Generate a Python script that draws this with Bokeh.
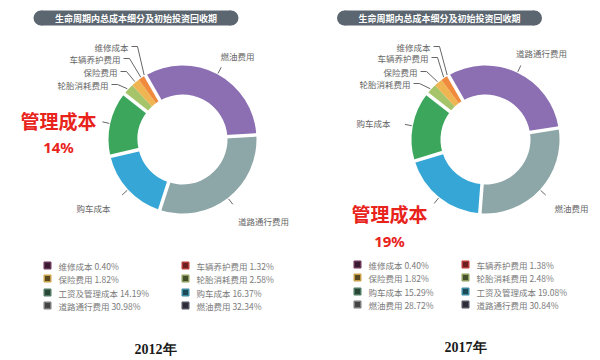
import math
from bokeh.plotting import figure
from bokeh.models import Range1d
from bokeh.core.properties import value
from bokeh.embed import file_html
from bokeh.resources import INLINE

# ---------------- data ----------------
title_text = "生命周期内总成本细分及初始投资回收期"
cats_2012 = ["维修成本", "车辆养护费用", "保险费用", "轮胎消耗费用",
             "工资及管理成本", "购车成本", "道路通行费用", "燃油费用"]
vals_2012 = [0.40, 1.32, 1.82, 2.58, 14.19, 16.37, 30.98, 32.34]
cats_2017 = ["维修成本", "车辆养护费用", "保险费用", "轮胎消耗费用",
             "购车成本", "工资及管理成本", "燃油费用", "道路通行费用"]
vals_2017 = [0.40, 1.38, 1.82, 2.48, 15.29, 19.08, 28.72, 30.84]
years = ["2012年", "2017年"]
highlight_text = ["管理成本", "管理成本"]
highlight_pct = ["14%", "19%"]
highlight_idx = [4, 5]

# ---------------- styles / layout ----------------
slice_colors = ["#e0342a", "#f08a3c", "#efb552", "#a6c46a",
                "#3ca75c", "#35a6d6", "#8da6a7", "#8b6fb2"]
legend_line = ["#6a3458", "#b83a36", "#c9a04a", "#8e9e5e",
               "#4e7a62", "#3a8aa0", "#7c7c7c", "#50505e"]
legend_fill = ["#3a1a30", "#6a2020", "#5a4820", "#44502c",
               "#2a4636", "#1e4a58", "#444444", "#2c2c38"]

W, H = 600, 360
def Y(py):
    return H - py

charts = [
    dict(cats=cats_2012, vals=vals_2012, cx=182, cy=139,
         small_end=[(128, 46), (120, 58), (117, 71), (108, 84)],
         big_lab={5: (93, 207), 6: (263, 220), 7: (237, 55)},
         hl=(58, 120, 146), banner=(135.5, 17.5), year=(155, 349),
         leg_x=(47, 185), leg_y=[265, 278, 292, 305]),
    dict(cats=cats_2017, vals=vals_2017, cx=485, cy=139,
         small_end=[(430, 46), (428, 57), (417, 71), (410, 83)],
         big_lab={4: (373, 122), 6: (571, 207), 7: (541, 52)},
         hl=(389, 213, 240), banner=(439, 17.5), year=(465, 347),
         leg_x=(357, 465), leg_y=[264, 277, 291, 304]),
]
R_OUT, R_IN = 74, 45
START = -30.0  # degrees clockwise from top where the largest slice begins
FONT = value("Noto Sans CJK SC")

p = figure(width=W, height=H, x_range=Range1d(0, W), y_range=Range1d(0, H),
           output_backend="svg", toolbar_location=None,
           x_axis_type=None, y_axis_type=None, min_border=0)
p.outline_line_color = None
p.xgrid.visible = False
p.ygrid.visible = False
p.background_fill_color = "white"
p.border_fill_color = "white"

def pt(cx, cy, r, theta):
    t = math.radians(theta)
    return cx + r * math.sin(t), Y(cy) + r * math.cos(t)

for ci, ch in enumerate(charts):
    cats, vals = ch["cats"], ch["vals"]
    total = sum(vals)
    cx, cy = ch["cx"], ch["cy"]
    # slices, largest first, clockwise from START
    order = list(range(len(vals)))[::-1]
    theta = START
    bounds = {}
    starts, ends, cols = [], [], []
    for i in order:
        sweep = vals[i] / total * 360.0
        t1, t2 = theta, theta + sweep
        bounds[i] = (t1, t2)
        starts.append(math.radians(90 - t2))
        ends.append(math.radians(90 - t1))
        cols.append(slice_colors[i])
        theta = t2
    p.annular_wedge(x=[cx] * len(order), y=[Y(cy)] * len(order),
                    inner_radius=R_IN, outer_radius=R_OUT,
                    start_angle=starts, end_angle=ends,
                    fill_color=cols, line_color=None)
    # white separators around the major slices
    sep_xs, sep_ys = [], []
    for k in range(len(order)):
        a, b = order[k], order[(k + 1) % len(order)]
        if vals[a] > 5 or vals[b] > 5:
            ang = bounds[a][1]
            x1, y1 = pt(cx, cy, R_IN - 2, ang)
            x2, y2 = pt(cx, cy, R_OUT + 2, ang)
            sep_xs.append([x1, x2]); sep_ys.append([y1, y2])
    p.multi_line(xs=sep_xs, ys=sep_ys, line_color="white", line_width=3.5)

    # small-slice labels with leader lines
    lx, ly, lt, lead_x, lead_y = [], [], [], [], []
    for i, (ex, ey) in enumerate(ch["small_end"]):
        mid = sum(bounds[i]) / 2
        px_, py_ = pt(cx, cy, R_OUT + 1, mid)
        lead_x.append([ex + 3, ex + 9, px_])
        lead_y.append([Y(ey), Y(ey), py_])
        lx.append(ex); ly.append(Y(ey)); lt.append(cats[i])
    p.multi_line(xs=lead_x, ys=lead_y, line_color="#555555", line_width=0.9)
    p.text(x=lx, y=ly, text=lt, text_align="right", text_baseline="middle",
           text_font=FONT, text_font_size="8.5px", text_color="#666666")

    # big-slice labels with ticks
    bx, by, bt, tx, ty = [], [], [], [], []
    for i, (px0, py0) in ch["big_lab"].items():
        mid = sum(bounds[i]) / 2
        a1 = pt(cx, cy, R_OUT + 1, mid); a2 = pt(cx, cy, R_OUT + 8, mid)
        tx.append([a1[0], a2[0]]); ty.append([a1[1], a2[1]])
        bx.append(px0); by.append(Y(py0)); bt.append(cats[i])
    hi = highlight_idx[ci]
    mid = sum(bounds[hi]) / 2
    a1 = pt(cx, cy, R_OUT + 1, mid); a2 = pt(cx, cy, R_OUT + 8, mid)
    tx.append([a1[0], a2[0]]); ty.append([a1[1], a2[1]])
    p.multi_line(xs=tx, ys=ty, line_color="#555555", line_width=0.9)
    p.text(x=bx, y=by, text=bt, text_align="center", text_baseline="middle",
           text_font=FONT, text_font_size="8.5px", text_color="#666666")

    hx, hy1, hy2 = ch["hl"]
    p.text(x=[hx], y=[Y(hy1)], text=[highlight_text[ci]], text_align="center",
           text_baseline="middle", text_font=FONT, text_font_size="19px",
           text_font_style="bold", text_color="#e8231c")
    p.text(x=[hx], y=[Y(hy2)], text=[highlight_pct[ci]], text_align="center",
           text_baseline="middle", text_font=value("Noto Sans"), text_font_size="15px",
           text_font_style="bold", text_color="#e8231c")

    # title banner (pill)
    bxc, byc = ch["banner"]
    p.rect(x=[bxc], y=[Y(byc)], width=190, height=15, fill_color="#5b6670",
           line_color=None)
    p.circle(x=[bxc - 95, bxc + 95], y=[Y(byc)] * 2, radius=7.5,
             fill_color="#5b6670", line_color=None)
    p.text(x=[bxc], y=[Y(byc)], text=[title_text], text_align="center",
           text_baseline="middle", text_font=FONT, text_font_size="9px",
           text_font_style="bold", text_color="white")

    # legend
    mx, my, mf, ml, gx, gy, gt = [], [], [], [], [], [], []
    for i in range(len(vals)):
        col, row = i % 2, i // 2
        x0 = ch["leg_x"][col]; y0 = ch["leg_y"][row]
        mx.append(x0); my.append(Y(y0)); mf.append(legend_fill[i]); ml.append(legend_line[i])
        gx.append(x0 + 11); gy.append(Y(y0)); gt.append(f"{cats[i]} {vals[i]:.2f}%")
    p.scatter(x=mx, y=my, marker="square", size=6.5, fill_color=mf,
              line_color=ml, line_width=1.5)
    p.text(x=gx, y=gy, text=gt, text_align="left", text_baseline="middle",
           text_font=FONT, text_font_size="8.5px", text_color="#7a7a7a")

    yx, yy = ch["year"]
    p.text(x=[yx], y=[Y(yy)], text=[years[ci]], text_align="center",
           text_baseline="middle", text_font=value("Liberation Serif"),
           text_font_size="14px", text_font_style="bold", text_color="#1a1a1a")

open("out.html", "w").write(file_html(p, INLINE))
